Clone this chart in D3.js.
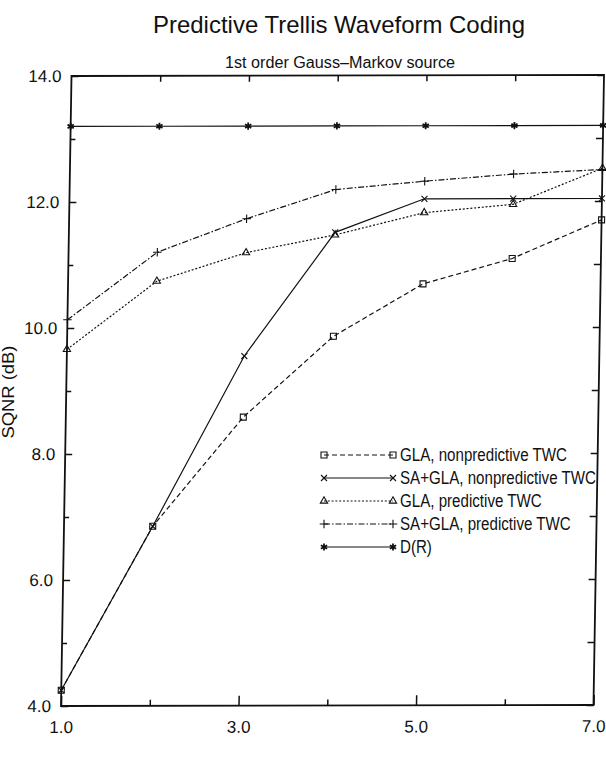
<!DOCTYPE html>
<html>
<head>
<meta charset="utf-8">
<script src="https://cdn.jsdelivr.net/npm/d3@7"></script>
<style>
  body { margin: 0; background: #fff; }
  svg { display: block; }
  text { font-family: "Liberation Sans", Arial, sans-serif; fill: #111; }
</style>
</head>
<body>
<div id="chart"></div>
<script>

// DATA
var rates = [1, 2, 3, 4, 5, 6, 7]
var glaNonpred   = [4.25, 6.85, 8.58, 9.86, 10.69, 11.09, 11.70]
var saglaNonpred = [4.25, 6.85, 9.55, 11.51, 12.04, 12.04, 12.04]
var glaPred      = [9.66, 10.74, 11.19, 11.47, 11.82, 11.95, 12.52]
var saglaPred    = [10.13, 11.20, 11.73, 12.19, 12.32, 12.43, 12.50]
var distRate     = [13.2, 13.2, 13.2, 13.2, 13.2, 13.2, 13.2]
var seriesNames  = ["GLA, nonpredictive TWC", "SA+GLA, nonpredictive TWC", "GLA, predictive TWC", "SA+GLA, predictive TWC", "D(R)"]
var xTickMajor = [1, 3, 5, 7]
var xTickMinor = [2, 4, 6]
var yTickMajor = [4, 6, 8, 10, 12, 14]
var yTickMinor = [5, 7, 9, 11, 13]

var W = 532.5, H = 630

var svg = d3.select("#chart").append("svg")
  .attr("width", 606)
  .attr("height", 761)

// the scan is slightly skewed, so the plot frame is too
var plot = svg.append("g")
  .attr("transform", "matrix(1,-0.00188,-0.01667,1,71.5,76)")

var x = d3.scaleLinear().domain([1, 7]).range([0, W])
var y = d3.scaleLinear().domain([4, 14]).range([H, 0])

var styles = [
  {values: glaNonpred,   dash: "5,3",        sym: d3.symbolSquare2,   size: 46, sw: 1.1},
  {values: saglaNonpred, dash: null,         sym: d3.symbolX,         size: 25, sw: 1.1},
  {values: glaPred,      dash: "2,1.8",      sym: d3.symbolTriangle2, size: 38, sw: 1.1},
  {values: saglaPred,    dash: "6,2,1.5,2",  sym: d3.symbolPlus,      size: 26, sw: 1.1},
  {values: distRate,     dash: null,         sym: d3.symbolAsterisk,  size: 36, sw: 1.8}
]

// FRAME + AXES
plot.append("rect")
  .attr("width", W).attr("height", H)
  .attr("fill", "none").attr("stroke", "#111").attr("stroke-width", 1.8)

function styleAxis(g) {
  g.select(".domain").remove()
  g.selectAll("line").attr("stroke", "#111").attr("stroke-width", 1.5)
  g.selectAll("text").attr("font-family", "Liberation Sans, Arial, sans-serif")
    .attr("font-size", 17).attr("fill", "#111")
}

plot.append("g").attr("transform", "translate(0," + H + ")")
  .call(d3.axisBottom(x).tickValues(xTickMajor).tickSize(-10).tickPadding(15).tickFormat(d3.format(".1f")))
  .call(styleAxis)
plot.append("g").attr("transform", "translate(0," + H + ")")
  .call(d3.axisBottom(x).tickValues(xTickMinor).tickSize(-6).tickFormat(""))
  .call(styleAxis)
plot.append("g")
  .call(d3.axisTop(x).tickValues(d3.range(2, 7)).tickSize(-6).tickFormat(""))
  .call(styleAxis)

plot.append("g")
  .call(d3.axisLeft(y).tickValues(yTickMajor).tickSize(-7).tickPadding(10).tickFormat(d3.format(".1f")))
  .call(styleAxis)
plot.append("g")
  .call(d3.axisLeft(y).tickValues(yTickMinor).tickSize(-5).tickFormat(""))
  .call(styleAxis)
plot.append("g").attr("transform", "translate(" + W + ",0)")
  .call(d3.axisRight(y).tickValues(yTickMajor.concat(yTickMinor)).tickSize(-7).tickFormat(""))
  .call(styleAxis)

// LINES
var line = d3.line()
  .x(function(d, i) { return x(rates[i]) })
  .y(function(d) { return y(d) })

styles.forEach(function(s) {
  plot.append("path")
    .attr("d", line(s.values))
    .attr("fill", "none")
    .attr("stroke", "#111")
    .attr("stroke-width", 1.2)
    .attr("stroke-dasharray", s.dash)

  plot.selectAll(null).data(s.values).enter().append("path")
    .attr("d", d3.symbol().type(s.sym).size(s.size))
    .attr("transform", function(d, i) { return "translate(" + x(rates[i]) + "," + y(d) + ")" })
    .attr("fill", "none")
    .attr("stroke", "#111")
    .attr("stroke-width", s.sw)
})

// TITLES
svg.append("text")
  .attr("x", 339).attr("y", 33)
  .attr("text-anchor", "middle")
  .attr("font-size", 24)
  .attr("textLength", 372).attr("lengthAdjust", "spacingAndGlyphs")
  .text("Predictive Trellis Waveform Coding")

svg.append("text")
  .attr("x", 340).attr("y", 68)
  .attr("text-anchor", "middle")
  .attr("font-size", 16)
  .attr("textLength", 230).attr("lengthAdjust", "spacingAndGlyphs")
  .text("1st order Gauss\u2013Markov source")

svg.append("text")
  .attr("transform", "translate(14,392) rotate(-90)")
  .attr("text-anchor", "middle")
  .attr("font-size", 17)
  .attr("textLength", 93).attr("lengthAdjust", "spacingAndGlyphs")
  .text("SQNR (dB)")

// LEGEND
var legX1 = 324, legX2 = 393, legY = 455, legStep = 23

var legend = svg.selectAll(".legend")
  .data(styles)
  .enter().append("g")
    .attr("class", "legend")
    .attr("transform", function(d, i) { return "translate(0," + (legY + i * legStep) + ")" })

legend.append("line")
  .attr("x1", legX1).attr("x2", legX2)
  .attr("stroke", "#111").attr("stroke-width", 1.2)
  .attr("stroke-dasharray", function(d) { return d.dash })

legend.each(function(d) {
  var g = d3.select(this)
  ;[legX1, legX2].forEach(function(px) {
    g.append("path")
      .attr("d", d3.symbol().type(d.sym).size(d.size))
      .attr("transform", "translate(" + px + ",0)")
      .attr("fill", "none").attr("stroke", "#111").attr("stroke-width", d.sw)
  })
})

legend.append("text")
  .attr("x", 400).attr("dy", "0.36em")
  .attr("font-size", 18)
  .text(function(d, i) { return seriesNames[i] })
  .each(function() {
    var w = this.getComputedTextLength()
    d3.select(this).attr("textLength", w * 0.84).attr("lengthAdjust", "spacingAndGlyphs")
  })

</script>
</body>
</html>
